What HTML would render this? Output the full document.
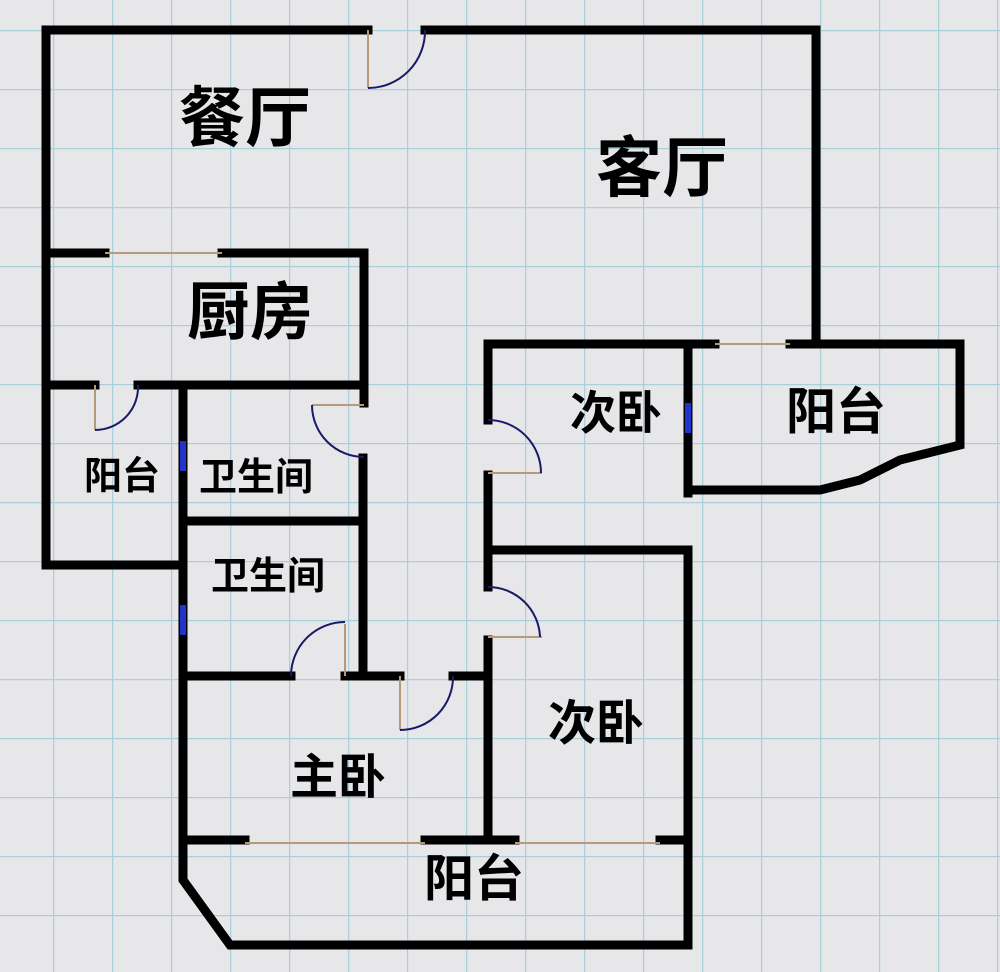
<!DOCTYPE html>
<html><head><meta charset="utf-8"><style>
html,body{margin:0;padding:0;background:#e7e7e9;}
svg{display:block}
text{font-family:"Liberation Sans","Noto Sans CJK SC","WenQuanYi Zen Hei",sans-serif;fill:#000;text-anchor:middle;dominant-baseline:central;font-weight:bold}
</style></head><body>
<svg width="1000" height="972" viewBox="0 0 1000 972" xmlns="http://www.w3.org/2000/svg">
<defs>
<pattern id="g" x="53" y="30" width="59" height="59" patternUnits="userSpaceOnUse">
<path d="M0 0H59M0 0V59" stroke="#a9cfd9" stroke-width="2.5" fill="none"/>
</pattern>
</defs>
<rect width="1000" height="972" fill="#e7e7e9"/>
<rect width="1000" height="972" fill="url(#g)"/>
<g stroke="#000" stroke-width="9" fill="none" stroke-linecap="square">
<path d="M46 30H368M425 30H816V340"/>
<path d="M46 30V565H183"/>
<path d="M46 253H105M222 253H364V403"/>
<path d="M46 385H95M138 385H364"/>
<path d="M183 385V880L230 945H688V550"/>
<path d="M183 521H363"/>
<path d="M363 458V676"/>
<path d="M183 676H291M345 676H400M453 676H488"/>
<path d="M488 344V420M488 475V587M488 640V840"/>
<path d="M488 344H688V493M688 550H488"/>
<path d="M688 344H715M790 344H960V445L900 460L860 480L820 490H688"/>
<path d="M183 840H245M425 840H515M660 840H688"/>
</g>
<g stroke="#b59a7a" stroke-width="2" fill="none">
<path d="M105 253H222M95 385V430M312 405H364M368 30V88M345 624V676M400 676V730M488 473H542M488 637H542M715 344H790M245 843H425M515 843H660"/>
</g>
<g stroke="#1a1a66" stroke-width="2" fill="none">
<path d="M368 88A57 57 0 0 0 425 30"/>
<path d="M95 430A43 43 0 0 0 138 385"/>
<path d="M312 405A52 52 0 0 0 364 457"/>
<path d="M291 676A54 54 0 0 1 345 622"/>
<path d="M400 730A53 53 0 0 0 453 676"/>
<path d="M488 420A53 53 0 0 1 541 473"/>
<path d="M488 587A52 52 0 0 1 540 637"/>
</g>
<g fill="#2233cc">
<rect x="180" y="441" width="6" height="30"/>
<rect x="180" y="605" width="6" height="30"/>
<rect x="685" y="403" width="6" height="30"/>
</g>
<text x="245" y="118" font-size="66">餐厅</text>
<text x="662" y="168" font-size="66">客厅</text>
<text x="250" y="313" font-size="63">厨房</text>
<text x="122" y="477" font-size="38">阳台</text>
<text x="256" y="478" font-size="38">卫生间</text>
<text x="268" y="577" font-size="38">卫生间</text>
<text x="616" y="413" font-size="46">次卧</text>
<text x="836" y="412" font-size="50">阳台</text>
<text x="596" y="724" font-size="48">次卧</text>
<text x="338" y="778" font-size="48">主卧</text>
<text x="474" y="879" font-size="50">阳台</text>
</svg>
</body></html>
